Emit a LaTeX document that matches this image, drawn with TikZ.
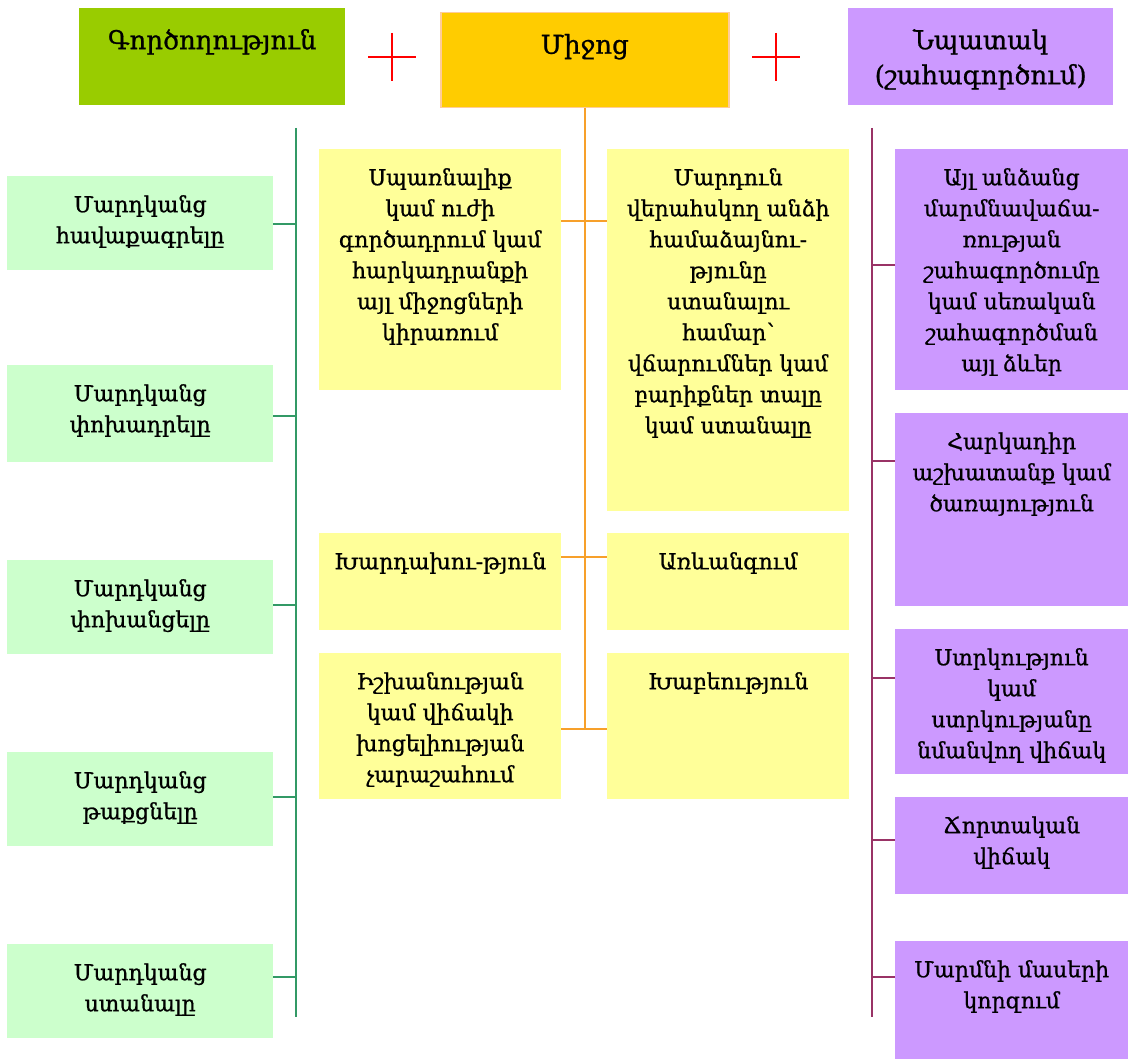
\documentclass[tikz,border=0pt]{standalone}
\usepackage{fontspec}
\setmainfont{DejaVu Serif}[FakeBold=0.9]
\usetikzlibrary{calc}

\definecolor{acthead}{HTML}{99CC00}
\definecolor{actfill}{HTML}{CCFFCC}
\definecolor{actline}{HTML}{339966}
\definecolor{meanhead}{HTML}{FFCC00}
\definecolor{meanedge}{HTML}{FFCC99}
\definecolor{meanfill}{HTML}{FFFF99}
\definecolor{meanline}{HTML}{F7A02A}
\definecolor{goalfill}{HTML}{CC99FF}
\definecolor{goalline}{HTML}{993366}

% box of given width and height, text set from the top
\newcommand{\celltext}[4][36pt]{\parbox[c][#3][t]{#2}{\centering\rule{0pt}{#1}#4}}

\begin{document}
\begin{tikzpicture}[x=1pt,y=-1pt,
    cell/.style={inner sep=0pt,anchor=north west,font=\fontsize{22}{31}\selectfont},
    headcell/.style={cell,font=\fontsize{26}{35}\selectfont},
    actbox/.style={cell,fill=actfill},
    meanbox/.style={cell,fill=meanfill},
    goalbox/.style={cell,fill=goalfill},
    actwire/.style={draw=actline,line width=1.5pt},
    meanwire/.style={draw=meanline,line width=1.5pt},
    goalwire/.style={draw=goalline,line width=1.5pt},
    plus/.style={draw=red,line width=1.3pt}]
    \useasboundingbox (0,0) rectangle (1128,1059);
    % top row
    \node[headcell,fill=acthead] (act) at (79,8) {\celltext[41pt]{266pt}{97pt}{Գործողություն}};
    \node[headcell,fill=meanhead,draw=meanedge,line width=1.5pt] (means) at (440,12) {\celltext[41pt]{288pt}{95pt}{Միջոց}};
    \node[headcell,fill=goalfill] (goal) at (848,8) {\celltext[41pt]{265pt}{97pt}{Նպատակ\\(շահագործում)}};
    \coordinate (plusA) at (392,57);
    \coordinate (plusB) at (776,57);
    \foreach \c in {plusA,plusB}
      \draw[plus] (\c) ++(-24,0) -- ++(48,0) (\c) ++(0,-24) -- ++(0,48);
    %
    % actions
    \node[actbox] (act1) at (7,176) {\celltext{266pt}{94pt}{Մարդկանց\\հավաքագրելը}};
    \node[actbox] (act2) at (7,365) {\celltext{266pt}{97pt}{Մարդկանց\\փոխադրելը}};
    \node[actbox] (act3) at (7,560) {\celltext{266pt}{94pt}{Մարդկանց\\փոխանցելը}};
    \node[actbox] (act4) at (7,752) {\celltext{266pt}{94pt}{Մարդկանց\\թաքցնելը}};
    \node[actbox] (act5) at (7,944) {\celltext{266pt}{94pt}{Մարդկանց\\ստանալը}};
    \coordinate (actbus) at (296,128);
    \draw[actwire] (actbus) -- (actbus |- 0,1017);
    \foreach \n/\y in {act1/224,act2/416,act3/605,act4/797,act5/977}
      \draw[actwire] (\n.east |- 0,\y) -- (actbus |- 0,\y);
    %
    % means
    \node[meanbox] (mean1) at (319,149) {\celltext{242pt}{241pt}{Սպառնալիք\\կամ ուժի\\գործադրում կամ\\հարկադրանքի\\այլ միջոցների\\կիրառում}};
    \node[meanbox] (mean2) at (607,149) {\celltext{242pt}{362pt}{Մարդուն\\վերահսկող անձի\\համաձայնու-\\թյունը\\ստանալու\\համար՝\\վճարումներ կամ\\բարիքներ տալը\\կամ ստանալը}};
    \node[meanbox] (mean3) at (319,533) {\celltext{242pt}{97pt}{Խարդախու-թյուն}};
    \node[meanbox] (mean4) at (607,533) {\celltext{242pt}{97pt}{Առևանգում}};
    \node[meanbox] (mean5) at (319,653) {\celltext{242pt}{146pt}{Իշխանության\\կամ վիճակի\\խոցելիության\\չարաշահում}};
    \node[meanbox] (mean6) at (607,653) {\celltext{242pt}{146pt}{Խաբեություն}};
    \draw[meanwire] (means.south) -- (means.south |- 0,729);
    \foreach \l/\r/\y in {mean1/mean2/221,mean3/mean4/557,mean5/mean6/729}
      \draw[meanwire] (\l.east |- 0,\y) -- (\r.west |- 0,\y);
    %
    % purpose
    \node[goalbox] (goal1) at (895,149) {\celltext{233pt}{241pt}{Այլ անձանց\\մարմնավաճա-\\ռության\\շահագործումը\\կամ սեռական\\շահագործման\\այլ ձևեր}};
    \node[goalbox] (goal2) at (895,413) {\celltext{233pt}{193pt}{Հարկադիր\\աշխատանք կամ\\ծառայություն}};
    \node[goalbox] (goal3) at (895,629) {\celltext{233pt}{145pt}{Ստրկություն\\կամ\\ստրկությանը\\նմանվող վիճակ}};
    \node[goalbox] (goal4) at (895,797) {\celltext{233pt}{97pt}{Ճորտական\\վիճակ}};
    \node[goalbox] (goal5) at (895,941) {\celltext{233pt}{118pt}{Մարմնի մասերի\\կորզում}};
    \coordinate (goalbus) at (872,128);
    \draw[goalwire] (goalbus) -- (goalbus |- 0,1017);
    \foreach \n/\y in {goal1/265,goal2/461,goal3/678,goal4/840,goal5/977}
      \draw[goalwire] (\n.west |- 0,\y) -- (goalbus |- 0,\y);
\end{tikzpicture}
\end{document}
